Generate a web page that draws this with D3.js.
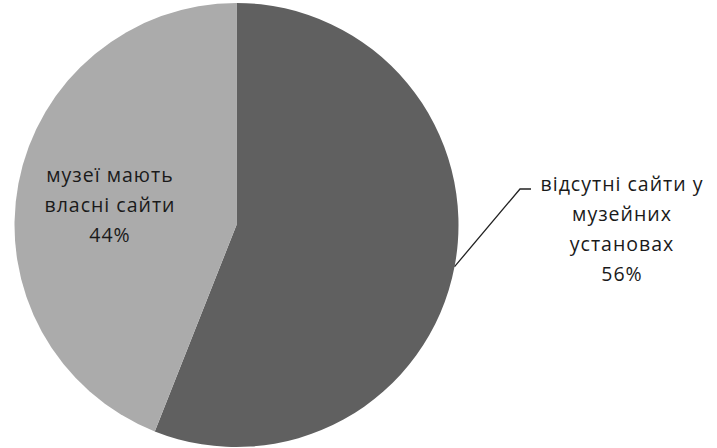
<!DOCTYPE html>
<html>
<head>
<meta charset="utf-8">
<script src="https://cdn.jsdelivr.net/npm/d3@7"></script>
<style>
  html, body { margin: 0; padding: 0; background: #fff; }
  svg { display: block; }
  text { font-family: "Open Sans", "Liberation Sans", sans-serif; fill: #1a1a1a; }
</style>
</head>
<body>
<svg id="chart" width="717" height="448"></svg>
<script>
// Share of museums with and without their own websites
const categories = ["відсутні сайти у музейних установах", "музеї мають власні сайти"];
const values = [56, 44];
const labelLines = [
  ["відсутні сайти у", "музейних", "установах", "56%"],
  ["музеї мають", "власні сайти", "44%"]
];
const colors = ["#606060", "#ababab"];

const svg = d3.select("#chart");
const cx = 236.5, cy = 225, r = 222;

const pie = d3.pie().sort(null).value(d => d.value);
const arcs = pie(categories.map((c, i) => ({ name: c, value: values[i] })));
const arc = d3.arc().innerRadius(0).outerRadius(r);

const g = svg.append("g").attr("transform", `translate(${cx},${cy})`);

g.selectAll("path.slice")
  .data(arcs)
  .join("path")
  .attr("class", "slice")
  .attr("d", arc)
  .attr("fill", (d, i) => colors[i]);

const fontSize = 19.5, lineH = 30, spacing = 1;

// Outside label for the larger slice, leader line from the slice's mid-angle
const a0 = arcs[0];
const mid = (a0.startAngle + a0.endAngle) / 2;
const edge = [Math.sin(mid) * r, -Math.cos(mid) * r];
const elbow = [520 - cx, 189 - cy];
const tail = [531 - cx, 189 - cy];
g.append("path")
  .attr("d", d3.line()([edge, elbow, tail]))
  .attr("fill", "none")
  .attr("stroke", "#222")
  .attr("stroke-width", 1.3);

const outer = svg.append("text")
  .attr("text-anchor", "middle")
  .attr("font-size", fontSize)
  .attr("letter-spacing", spacing);
labelLines[0].forEach((t, i) => {
  outer.append("tspan").attr("x", 622).attr("y", 191 + i * lineH).text(t);
});

// Inside label for the smaller slice
const inner = svg.append("text")
  .attr("text-anchor", "middle")
  .attr("font-size", fontSize)
  .attr("letter-spacing", spacing);
labelLines[1].forEach((t, i) => {
  inner.append("tspan").attr("x", 110).attr("y", 182 + i * lineH).text(t);
});
</script>
</body>
</html>
